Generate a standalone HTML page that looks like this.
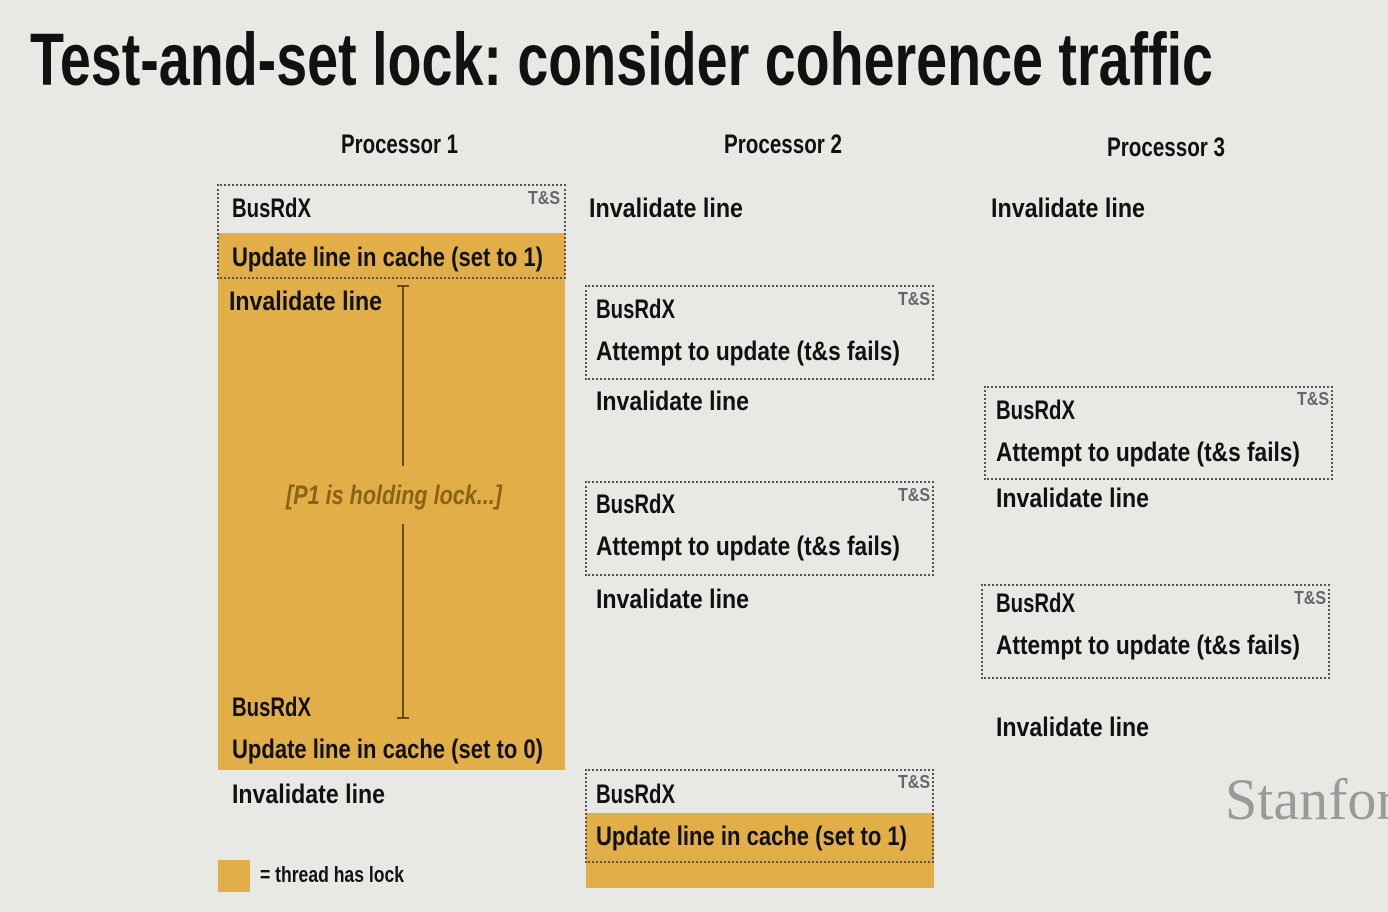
<!DOCTYPE html>
<html><head><meta charset="utf-8"><style>
html,body{margin:0;padding:0}
body{width:1388px;height:912px;background:#e8e8e5;position:relative;overflow:hidden;font-family:"Liberation Sans",sans-serif;font-weight:bold;color:#111}
.a{position:absolute;white-space:nowrap;transform-origin:0 50%}
.t{font-size:27px;line-height:30px;height:30px}
.box{position:absolute;border:2px dotted #555;box-sizing:border-box}
.or{position:absolute;background:#e2ae48}
.ts{position:absolute;font-size:18px;color:#666;line-height:20px;white-space:nowrap;transform-origin:0 50%}
.h{font-size:27px;line-height:30px}
</style></head><body>
<div class="a" data-w="1183" style="left:30px;top:18px;font-size:74px;line-height:84px">Test-and-set lock: consider coherence traffic</div>
<div class="a h" data-w="117" style="left:341px;top:129px">Processor 1</div>
<div class="a h" data-w="118" style="left:724px;top:129px">Processor 2</div>
<div class="a h" data-w="118" style="left:1107px;top:132px">Processor 3</div>

<!-- P1 -->
<div class="or" style="left:218px;top:233px;width:347px;height:537px"></div>
<div class="box" style="left:217px;top:184px;width:349px;height:95px"></div>
<div class="ts" data-w="32" style="left:528px;top:188px">T&amp;S</div>
<div class="a t" data-w="79" style="left:232px;top:193px">BusRdX</div>
<div class="a t" data-w="311" style="left:232px;top:242px">Update line in cache (set to 1)</div>
<div class="a t" data-w="153" style="left:229px;top:286px">Invalidate line</div>
<div class="a" style="left:402px;top:286px;width:2px;height:180px;background:#6a4a10"></div>
<div class="a" style="left:402px;top:524px;width:2px;height:194px;background:#6a4a10"></div>
<div class="a" style="left:397px;top:285px;width:12px;height:2px;background:#6a4a10"></div>
<div class="a" style="left:397px;top:717px;width:12px;height:2px;background:#6a4a10"></div>
<div class="a t" data-w="216" style="left:286px;top:480px;font-style:italic;color:#8a6318">[P1 is holding lock...]</div>
<div class="a t" data-w="79" style="left:232px;top:692px">BusRdX</div>
<div class="a t" data-w="311" style="left:232px;top:734px">Update line in cache (set to 0)</div>
<div class="a t" data-w="153" style="left:232px;top:779px">Invalidate line</div>
<div class="or" style="left:218px;top:860px;width:32px;height:32px"></div>
<div class="a" data-w="144" style="left:260px;top:862px;font-size:22px;line-height:26px">= thread has lock</div>

<!-- P2 -->
<div class="a t" data-w="154" style="left:589px;top:193px">Invalidate line</div>
<div class="box" style="left:585px;top:285px;width:349px;height:95px"></div>
<div class="ts" data-w="32" style="left:898px;top:289px">T&amp;S</div>
<div class="a t" data-w="79" style="left:596px;top:294px">BusRdX</div>
<div class="a t" data-w="304" style="left:596px;top:336px">Attempt to update (t&amp;s fails)</div>
<div class="a t" data-w="153" style="left:596px;top:386px">Invalidate line</div>
<div class="box" style="left:585px;top:481px;width:349px;height:95px"></div>
<div class="ts" data-w="32" style="left:898px;top:485px">T&amp;S</div>
<div class="a t" data-w="79" style="left:596px;top:489px">BusRdX</div>
<div class="a t" data-w="304" style="left:596px;top:531px">Attempt to update (t&amp;s fails)</div>
<div class="a t" data-w="153" style="left:596px;top:584px">Invalidate line</div>
<div class="or" style="left:586px;top:813px;width:348px;height:75px"></div>
<div class="box" style="left:585px;top:769px;width:349px;height:94px"></div>
<div class="ts" data-w="32" style="left:898px;top:772px">T&amp;S</div>
<div class="a t" data-w="79" style="left:596px;top:779px">BusRdX</div>
<div class="a t" data-w="311" style="left:596px;top:821px">Update line in cache (set to 1)</div>

<!-- P3 -->
<div class="a t" data-w="154" style="left:991px;top:193px">Invalidate line</div>
<div class="box" style="left:984px;top:386px;width:349px;height:94px"></div>
<div class="ts" data-w="32" style="left:1297px;top:389px">T&amp;S</div>
<div class="a t" data-w="79" style="left:996px;top:395px">BusRdX</div>
<div class="a t" data-w="304" style="left:996px;top:437px">Attempt to update (t&amp;s fails)</div>
<div class="a t" data-w="153" style="left:996px;top:483px">Invalidate line</div>
<div class="box" style="left:981px;top:584px;width:349px;height:95px"></div>
<div class="ts" data-w="32" style="left:1294px;top:588px">T&amp;S</div>
<div class="a t" data-w="79" style="left:996px;top:588px">BusRdX</div>
<div class="a t" data-w="304" style="left:996px;top:630px">Attempt to update (t&amp;s fails)</div>
<div class="a t" data-w="153" style="left:996px;top:712px">Invalidate line</div>

<div class="a" style="left:1225px;top:768px;font-family:'Liberation Serif',serif;font-weight:normal;font-size:58px;line-height:64px;color:#9a9a98">Stanford</div>
<script>
document.querySelectorAll('[data-w]').forEach(function(el){
  var w = parseFloat(el.getAttribute('data-w'));
  var r = el.getBoundingClientRect().width;
  if (r > 0) el.style.transform = 'scaleX(' + (w / r) + ')';
});
</script>
</body></html>
